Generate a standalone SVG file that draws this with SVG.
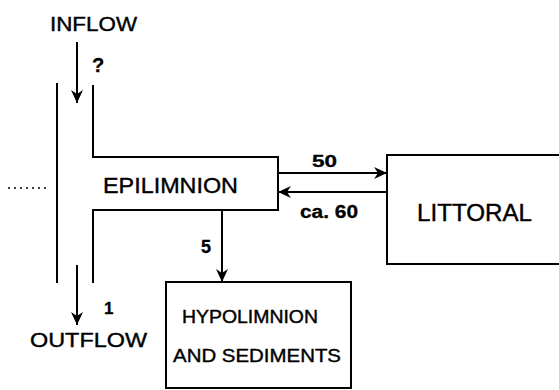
<svg xmlns="http://www.w3.org/2000/svg" width="559" height="390" viewBox="0 0 559 390">
<defs>
<marker id="ah" markerUnits="userSpaceOnUse" markerWidth="14" markerHeight="12" refX="13" refY="6" orient="auto">
<path d="M0,0 L13,6 L0,12 L4,6 Z" fill="#000"/>
</marker>
<style>
.ln{fill:none;stroke:#000;stroke-width:2}
.lbl{font-family:"Liberation Sans",Arial,sans-serif;fill:#000;stroke:#000;stroke-width:0.4}
.num{font-family:"Liberation Sans",Arial,sans-serif;font-weight:bold;fill:#000;stroke:#000;stroke-width:0.3}
</style>
</defs>
<rect width="559" height="390" fill="#fff"/>
<g id="epilimnion">
<path class="ln" d="M57,83 V283"/>
<path class="ln" d="M93,85 V157 H278 V210 H93 V283"/>
<text class="lbl" x="103" y="193" font-size="22" textLength="135" lengthAdjust="spacingAndGlyphs">EPILIMNION</text>
</g>
<g id="inflow">
<text class="lbl" x="50" y="31" font-size="21" textLength="87" lengthAdjust="spacingAndGlyphs">INFLOW</text>
</g>
<g id="outflow">
<text class="lbl" x="30" y="347" font-size="21" textLength="117" lengthAdjust="spacingAndGlyphs">OUTFLOW</text>
</g>
<g id="littoral">
<path class="ln" d="M561,155 H387 V264 H561"/>
<text class="lbl" x="417" y="221" font-size="23" textLength="115" lengthAdjust="spacingAndGlyphs">LITTORAL</text>
</g>
<g id="hypolimnion">
<rect class="ln" x="166" y="282" width="185" height="106"/>
<text class="lbl" x="182" y="323" font-size="18" textLength="136" lengthAdjust="spacingAndGlyphs">HYPOLIMNION</text>
<text class="lbl" x="173" y="362" font-size="19" textLength="168" lengthAdjust="spacingAndGlyphs">AND SEDIMENTS</text>
</g>
<g id="connectors">
<path class="ln" d="M77,42 V103" marker-end="url(#ah)"/>
<path class="ln" d="M77,265 V325" marker-end="url(#ah)"/>
<path class="ln" d="M278,173 H387" marker-end="url(#ah)"/>
<path class="ln" d="M387,192 H278" marker-end="url(#ah)"/>
<path class="ln" d="M222,210 V282" marker-end="url(#ah)"/>
<path d="M8,188 H50" fill="none" stroke="#000" stroke-width="1.5" stroke-dasharray="2,4"/>
<text class="num" x="92" y="72" font-size="20">?</text>
<text class="num" x="104" y="314" font-size="17">1</text>
<text class="num" x="201" y="253" font-size="18">5</text>
<text class="num" x="312" y="167" font-size="17" textLength="25" lengthAdjust="spacingAndGlyphs">50</text>
<text class="num" x="300" y="218" font-size="18" textLength="58" lengthAdjust="spacingAndGlyphs">ca. 60</text>
</g>
</svg>
